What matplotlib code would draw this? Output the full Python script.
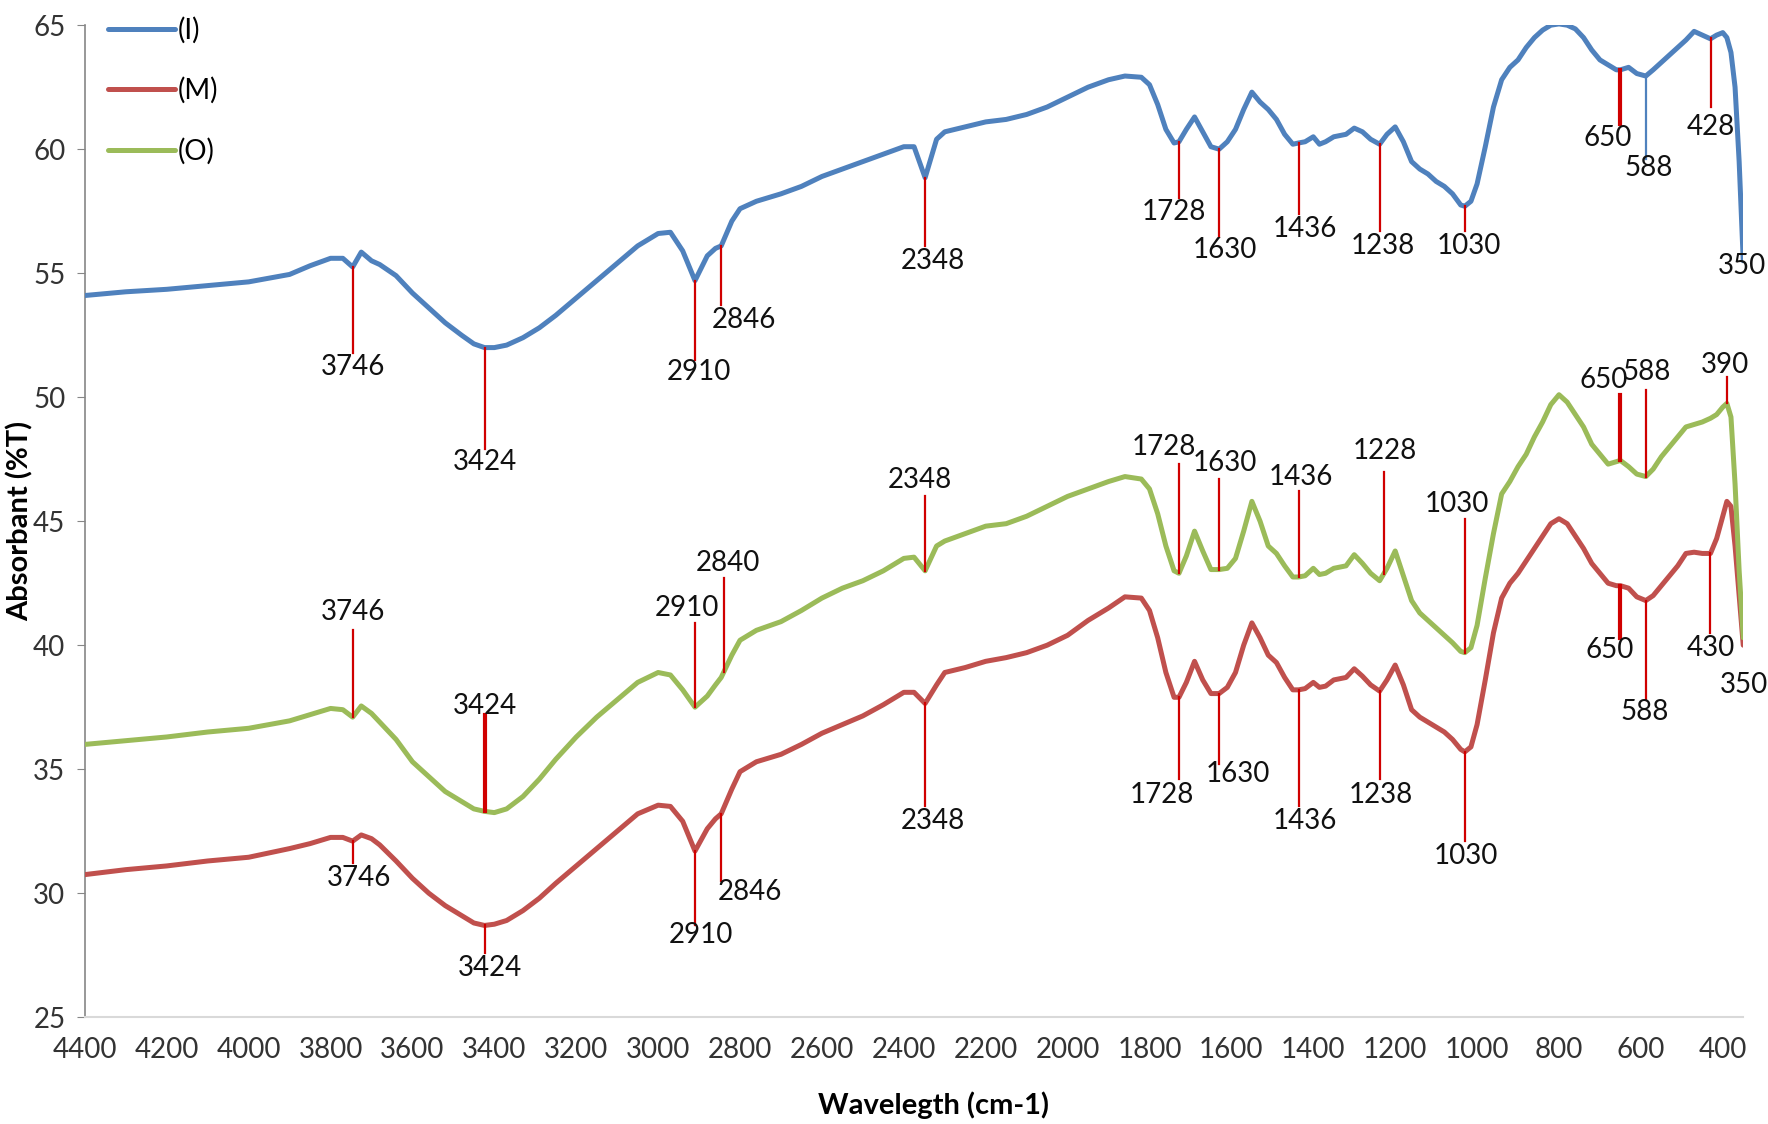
import numpy as np
import matplotlib
matplotlib.use("Agg")
import matplotlib.pyplot as plt

plt.rcParams["font.family"] = ["Lato", "DejaVu Sans"]

# wavenumber grid (cm-1)
wn = [4400, 4300, 4200, 4100, 4000, 3900, 3850, 3800, 3770, 3746, 3725, 3700, 3680, 3640,
      3600, 3560, 3520, 3480, 3450, 3424, 3400, 3370, 3330, 3290, 3250, 3200, 3150, 3100,
      3050, 3000, 2970, 2940, 2910, 2880, 2860, 2846, 2820, 2800, 2760, 2700, 2650, 2600,
      2550, 2500, 2450, 2400, 2375, 2348, 2320, 2300, 2250, 2200, 2150, 2100, 2050, 2000,
      1950, 1900, 1860, 1820, 1800, 1780, 1760, 1740, 1728, 1710, 1690, 1670, 1650, 1630,
      1610, 1590, 1570, 1550, 1530, 1510, 1490, 1470, 1450, 1436, 1420, 1400, 1385, 1370,
      1350, 1320, 1300, 1280, 1260, 1238, 1220, 1200, 1180, 1160, 1140, 1120, 1100, 1080,
      1060, 1040, 1030, 1015, 1000, 980, 960, 940, 920, 900, 880, 860, 840, 820, 800, 780,
      760, 740, 720, 700, 680, 660, 650, 630, 610, 588, 570, 550, 530, 510, 490, 470, 450,
      430, 415, 400, 390, 380, 370, 360, 350]

curve_I = [54.1, 54.25, 54.35, 54.5, 54.65, 54.95, 55.3, 55.6, 55.6, 55.25, 55.85, 55.5, 55.35, 54.9,
           54.2, 53.6, 53.0, 52.5, 52.15, 52.0, 52.0, 52.1, 52.4, 52.8, 53.3, 54.0, 54.7, 55.4,
           56.1, 56.6, 56.65, 55.9, 54.7, 55.7, 56.0, 56.1, 57.1, 57.6, 57.9, 58.2, 58.5, 58.9,
           59.2, 59.5, 59.8, 60.1, 60.1, 58.85, 60.4, 60.7, 60.9, 61.1, 61.2, 61.4, 61.7, 62.1,
           62.5, 62.8, 62.95, 62.9, 62.6, 61.8, 60.8, 60.25, 60.3, 60.8, 61.3, 60.7, 60.1, 60.0,
           60.3, 60.8, 61.6, 62.3, 61.9, 61.6, 61.2, 60.6, 60.2, 60.25, 60.3, 60.5, 60.2, 60.3,
           60.5, 60.6, 60.85, 60.7, 60.4, 60.2, 60.6, 60.9, 60.3, 59.5, 59.2, 59.0, 58.7, 58.5,
           58.2, 57.75, 57.7, 57.9, 58.6, 60.1, 61.7, 62.8, 63.3, 63.6, 64.1, 64.5, 64.8, 65.0, 65.05, 65.0,
           64.85, 64.5, 64.0, 63.6, 63.4, 63.2, 63.2, 63.3, 63.05, 62.95, 63.2, 63.5, 63.8, 64.1, 64.4, 64.75, 64.6,
           64.45, 64.6, 64.7, 64.5, 63.9, 62.5, 59.5, 55.5]

curve_M = [30.75, 30.95, 31.1, 31.3, 31.45, 31.8, 32.0, 32.25, 32.25, 32.1, 32.35, 32.2, 31.95, 31.3,
           30.6, 30.0, 29.5, 29.1, 28.8, 28.7, 28.75, 28.9, 29.3, 29.8, 30.4, 31.1, 31.8, 32.5,
           33.2, 33.55, 33.5, 32.9, 31.7, 32.6, 33.0, 33.2, 34.2, 34.9, 35.3, 35.6, 36.0, 36.45,
           36.8, 37.15, 37.6, 38.1, 38.1, 37.65, 38.4, 38.9, 39.1, 39.35, 39.5, 39.7, 40.0, 40.4,
           41.0, 41.5, 41.95, 41.9, 41.4, 40.3, 38.9, 37.9, 37.9, 38.5, 39.35, 38.6, 38.05, 38.05,
           38.3, 38.9, 40.0, 40.9, 40.3, 39.6, 39.3, 38.7, 38.2, 38.2, 38.25, 38.5, 38.3, 38.35,
           38.6, 38.7, 39.05, 38.75, 38.4, 38.15, 38.6, 39.2, 38.4, 37.4, 37.1, 36.9, 36.7, 36.5,
           36.2, 35.8, 35.7, 35.9, 36.8, 38.6, 40.5, 41.9, 42.5, 42.9, 43.4, 43.9, 44.4, 44.9, 45.1, 44.9,
           44.4, 43.9, 43.3, 42.9, 42.5, 42.4, 42.4, 42.3, 41.95, 41.8, 42.0, 42.4, 42.8, 43.2, 43.7, 43.75, 43.7,
           43.7, 44.3, 45.2, 45.8, 45.6, 44.0, 42.0, 40.0]

curve_O = [36.0, 36.15, 36.3, 36.5, 36.65, 36.95, 37.2, 37.45, 37.4, 37.1, 37.55, 37.25, 36.9, 36.2,
           35.3, 34.7, 34.1, 33.7, 33.4, 33.3, 33.25, 33.4, 33.9, 34.6, 35.4, 36.3, 37.1, 37.8,
           38.5, 38.9, 38.8, 38.2, 37.5, 37.95, 38.4, 38.7, 39.6, 40.2, 40.6, 40.95, 41.4, 41.9,
           42.3, 42.6, 43.0, 43.5, 43.55, 43.0, 44.0, 44.2, 44.5, 44.8, 44.9, 45.2, 45.6, 46.0,
           46.3, 46.6, 46.8, 46.7, 46.3, 45.3, 44.0, 43.0, 42.9, 43.6, 44.6, 43.8, 43.05, 43.05,
           43.1, 43.5, 44.6, 45.8, 45.0, 44.0, 43.7, 43.2, 42.75, 42.75, 42.8, 43.1, 42.85, 42.9,
           43.1, 43.2, 43.65, 43.3, 42.9, 42.6, 43.1, 43.8, 42.8, 41.8, 41.3, 41.0, 40.7, 40.4,
           40.1, 39.75, 39.7, 39.9, 40.8, 42.7, 44.5, 46.1, 46.6, 47.2, 47.7, 48.4, 49.0, 49.7, 50.1, 49.8,
           49.3, 48.8, 48.1, 47.7, 47.3, 47.4, 47.45, 47.2, 46.9, 46.8, 47.1, 47.6, 48.0, 48.4, 48.8, 48.9, 49.0,
           49.15, 49.3, 49.6, 49.75, 49.2, 46.5, 43.0, 40.3]

series_names = ["(I)", "(M)", "(O)"]
xticks = list(range(4400, 399, -200))
yticks = list(range(25, 66, 5))

# peak labels: (text, peak wavenumber, line end y, text y, text x)
peaks_I = [("3746", 3746, 51.8, 51.2, 3746), ("3424", 3424, 47.9, 47.4, 3424),
           ("2910", 2910, 51.5, 51.0, 2900), ("2846", 2846, 53.7, 53.1, 2790),
           ("2348", 2348, 56.1, 55.5, 2330), ("1728", 1728, 58.05, 57.45, 1740),
           ("1630", 1630, 56.45, 55.95, 1615), ("1436", 1436, 57.4, 56.8, 1420),
           ("1238", 1238, 56.7, 56.1, 1230), ("1030", 1030, 56.7, 56.1, 1020),
           ("650", 650, 61.0, 60.45, 680), ("588", 588, 59.6, 59.25, 580),
           ("428", 428, 61.7, 60.9, 428), ("350", None, None, 55.3, 352)]
peaks_O = [("3746", 3746, 40.6, 41.35, 3746), ("3424", 3424, 37.2, 37.55, 3424),
           ("2910", 2910, 40.9, 41.5, 2930), ("2840", 2840, 42.7, 43.3, 2830),
           ("2348", 2348, 46.0, 46.65, 2360), ("1728", 1728, 47.3, 48.0, 1765),
           ("1630", 1630, 46.7, 47.35, 1615), ("1436", 1436, 46.2, 46.8, 1430),
           ("1228", 1228, 47.0, 47.85, 1225), ("1030", 1030, 45.1, 45.7, 1050),
           ("650", 650, 50.1, 50.7, 690), ("588", 588, 50.3, 51.0, 585),
           ("390", 390, 50.8, 51.3, 395)]
peaks_M = [("3746", 3746, 31.2, 30.6, 3730), ("3424", 3424, 27.6, 27.0, 3410),
           ("2910", 2910, 28.7, 28.3, 2895), ("2846", 2846, 30.5, 30.05, 2775),
           ("2348", 2348, 33.5, 32.9, 2330), ("1728", 1728, 34.6, 33.95, 1770),
           ("1630", 1630, 35.2, 34.8, 1585), ("1436", 1436, 33.5, 32.9, 1420),
           ("1238", 1238, 34.6, 33.95, 1235), ("1030", 1030, 32.1, 31.5, 1028),
           ("650", 650, 40.3, 39.8, 675), ("588", 588, 37.8, 37.3, 590),
           ("430", 430, 40.5, 39.9, 430), ("350", None, None, 38.4, 348)]

colors = ["#4F81BD", "#C0504D", "#9BBB59"]
FS = 20

fig = plt.figure(figsize=(17.68, 11.24), dpi=100)
ax = fig.add_axes([0.048, 0.095, 0.938, 0.8826])

wn_a = np.array(wn)
for name, ys, c in zip(series_names, [curve_I, curve_M, curve_O], colors):
    ax.plot(wn_a, ys, color=c, lw=3.6, label=name, solid_capstyle="round",
            solid_joinstyle="round", zorder=3)

def label_peaks(peaks, ys, thick=(), blue=()):
    xs, yy = wn_a[::-1], np.array(ys)[::-1]
    for txt, w, yend, ytxt, xt in peaks:
        if w is not None:
            y0 = np.interp(w, xs, yy)
            col = "#4F81BD" if txt in blue else "#D00000"
            lw = 3 if txt in thick else 1.6
            ax.plot([w, w], [y0, yend], color=col, lw=lw, zorder=4)
        ax.text(xt, ytxt, txt, ha="center", va="center", fontsize=FS, color="#111111",
                zorder=5, clip_on=False)

label_peaks(peaks_I, curve_I, thick=("650",), blue=("588",))
label_peaks(peaks_O, curve_O, thick=("3424", "650"))
label_peaks(peaks_M, curve_M, thick=("650",))

ax.set_xlim(4400, 350)
ax.set_ylim(25, 65)
ax.set_xticks(xticks)
ax.set_yticks(yticks)
ax.tick_params(axis="x", length=0, labelsize=FS, pad=14, colors="#333333")
ax.tick_params(axis="y", length=6, direction="out", color="#868686", labelsize=FS,
               pad=8, labelcolor="#333333")
for s in ["top", "right"]:
    ax.spines[s].set_visible(False)
ax.spines["left"].set_color("#868686")
ax.spines["bottom"].set_color("#D9D9D9")
ax.spines["left"].set_linewidth(1.2)
ax.spines["bottom"].set_linewidth(1.5)

ax.set_xlabel("Wavelegth (cm-1)", fontsize=FS + 1, fontweight="bold")
ax.set_ylabel("Absorbant (%T)", fontsize=FS + 1, fontweight="bold")
ax.xaxis.set_label_coords(0.512, -0.075)
ax.yaxis.set_label_coords(-0.031, 0.5)

ax.legend(loc="upper left", bbox_to_anchor=(0.004, 1.025), frameon=False, fontsize=FS,
          handlelength=2.4, handletextpad=0.1, labelspacing=1.2, borderaxespad=0.2)

fig.savefig("out.png", dpi=100, facecolor="white")
